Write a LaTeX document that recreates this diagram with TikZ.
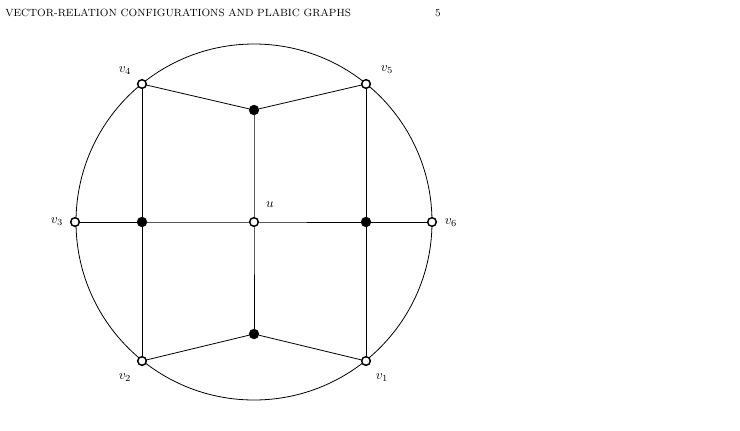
\documentclass[tikz,border=0pt]{standalone}
\usepackage{amsmath}
\begin{document}
\begin{tikzpicture}[x=0.75pt,y=-0.75pt,
  wvert/.style={draw, circle, fill=white, line width=1.1pt, inner sep=0pt, minimum size=6.5pt},
  bvert/.style={draw, circle, fill=black, inner sep=0pt, minimum size=7.3pt},
  edge/.style={line width=0.6pt}]
\useasboundingbox (0,0) rectangle (740,430);
% running head
\node[anchor=base west, inner sep=0pt] (head) at (5,16) {\fontsize{7.85}{10}\selectfont VECTOR-RELATION CONFIGURATIONS AND PLABIC GRAPHS};
\node[anchor=base east, inner sep=0pt] (page) at (441,16) {\fontsize{7.85}{10}\selectfont 5};
% boundary circle
\coordinate (c) at (254,222);
\draw[edge] (c) circle[radius=133.5pt];
% internal vertices
\node[bvert] (bt) at (254,110) {};
\node[bvert] (bb) at (254,334) {};
\node[bvert] (bl) at (142,222) {};
\node[bvert] (br) at (366,222) {};
% edges
\draw[edge] (142,84) -- (bt) -- (366,84);
\draw[edge] (142,361) -- (bb) -- (366,361);
\draw[edge] (bt) -- (c) -- (bb);
\draw[edge] (75,222) -- (bl) -- (c) -- (br) -- (432,222);
\draw[edge] (142,84) -- (bl) -- (142,361);
\draw[edge] (366,84) -- (br) -- (366,361);
% boundary and white vertices
\node[wvert] (v1) at (366,361) {};
\node[wvert] (v2) at (142,361) {};
\node[wvert] (v3) at (75,222) {};
\node[wvert] (v4) at (142,84) {};
\node[wvert] (v5) at (366,84) {};
\node[wvert] (v6) at (432,222) {};
\node[wvert] (u) at (c) {};
% labels
\node (l1) at (382,378) {$v_1$};
\node (l2) at (125,378) {$v_2$};
\node (l3) at (57,222) {$v_3$};
\node (l4) at (125,71) {$v_4$};
\node (l5) at (387,70) {$v_5$};
\node (l6) at (451,223) {$v_6$};
\node (lu) at (270,205) {$u$};
\end{tikzpicture}
\end{document}
